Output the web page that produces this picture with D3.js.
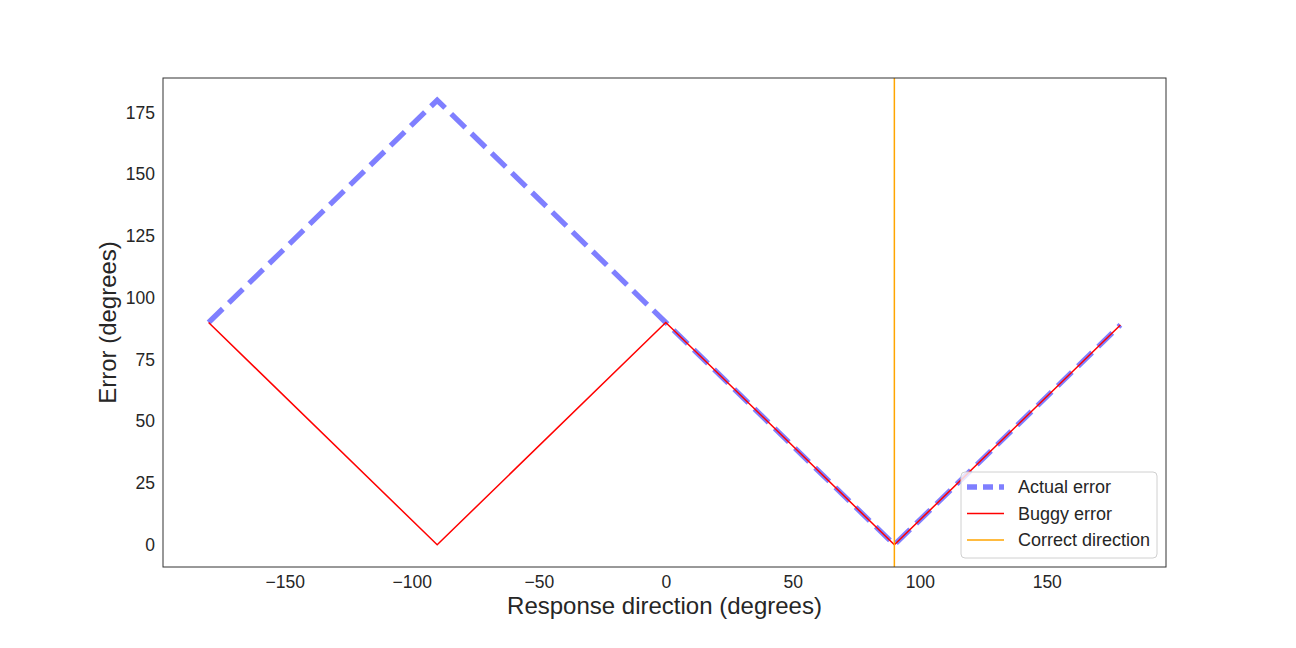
<!DOCTYPE html>
<html>
<head>
<meta charset="utf-8">
<script src="https://cdn.jsdelivr.net/npm/d3@7"></script>
<style>
  body { margin: 0; background: #fff; }
  text { font-family: "Liberation Sans", Arial, sans-serif; fill: #262626; }
</style>
</head>
<body>
<svg id="chart" width="1296" height="648"></svg>
<script>
// data
const directions = [-180, -90, 0, 90, 179];
const actualError = [90, 180, 90, 0, 89];
const buggyError = [90, 0, 90, 0, 89];
const correctDirection = 90;
const xTicks = [-150, -100, -50, 0, 50, 100, 150];
const yTicks = [0, 25, 50, 75, 100, 125, 150, 175];
const legendLabels = ['Actual error', 'Buggy error', 'Correct direction'];

const pLeft = 163, pRight = 1166, pTop = 78, pBottom = 567;
const svg = d3.select('#chart');

const x = d3.scaleLinear().domain([-197.95, 196.95]).range([pLeft, pRight]);
const y = d3.scaleLinear().domain([-9, 189]).range([pBottom, pTop]);
const fmt = d => d < 0 ? '\u2212' + Math.abs(d) : String(d);

// clip to axes
svg.append('clipPath').attr('id', 'clip')
  .append('rect').attr('x', pLeft).attr('y', pTop)
  .attr('width', pRight - pLeft).attr('height', pBottom - pTop);

const plot = svg.append('g').attr('clip-path', 'url(#clip)');
const line = d3.line().x(d => x(d[0])).y(d => y(d[1]));

plot.append('path')
  .datum(directions.map((d, i) => [d, actualError[i]]))
  .attr('d', line)
  .attr('fill', 'none')
  .attr('stroke', 'blue').attr('stroke-opacity', 0.5)
  .attr('stroke-width', 5.3)
  .attr('stroke-dasharray', '19.7 8.5');

plot.append('path')
  .datum(directions.map((d, i) => [d, buggyError[i]]))
  .attr('d', line)
  .attr('fill', 'none')
  .attr('stroke', 'red')
  .attr('stroke-width', 1.5);

plot.append('line')
  .attr('x1', x(correctDirection)).attr('x2', x(correctDirection))
  .attr('y1', pTop).attr('y2', pBottom)
  .attr('stroke', 'orange').attr('stroke-width', 1.5);

// axes (no tick marks, seaborn-white)
const xAxis = svg.append('g').attr('transform', `translate(0,${pBottom})`)
  .call(d3.axisBottom(x).tickValues(xTicks).tickFormat(fmt).tickSize(0).tickPadding(9));
const yAxis = svg.append('g').attr('transform', `translate(${pLeft},0)`)
  .call(d3.axisLeft(y).tickValues(yTicks).tickFormat(fmt).tickSize(0).tickPadding(8));
[xAxis, yAxis].forEach(a => {
  a.select('.domain').remove();
  a.selectAll('text').attr('font-size', '17.5px').attr('fill', '#262626')
    .style('font-family', '"Liberation Sans", Arial, sans-serif');
});

svg.append('rect')
  .attr('x', pLeft).attr('y', pTop)
  .attr('width', pRight - pLeft).attr('height', pBottom - pTop)
  .attr('fill', 'none').attr('stroke', '#333').attr('stroke-width', 1);

svg.append('text')
  .attr('x', (pLeft + pRight) / 2).attr('y', 614)
  .attr('text-anchor', 'middle').attr('font-size', '24px')
  .text('Response direction (degrees)');

svg.append('text')
  .attr('transform', `translate(116,${(pTop + pBottom) / 2}) rotate(-90)`)
  .attr('text-anchor', 'middle').attr('font-size', '24px')
  .text('Error (degrees)');

// legend
const lg = svg.append('g');
lg.append('rect')
  .attr('x', 961).attr('y', 472).attr('width', 196).attr('height', 86)
  .attr('rx', 4).attr('fill', 'white').attr('fill-opacity', 0.8)
  .attr('stroke', '#d0d0d0');
const styles = [
  { stroke: 'blue', op: 0.5, w: 5.3, dash: '10 6' },
  { stroke: 'red', op: 1, w: 1.5, dash: null },
  { stroke: 'orange', op: 1, w: 1.5, dash: null }
];
legendLabels.forEach((lab, i) => {
  const yy = 487 + i * 26.5;
  lg.append('line')
    .attr('x1', 967).attr('x2', 1004).attr('y1', yy).attr('y2', yy)
    .attr('stroke', styles[i].stroke).attr('stroke-opacity', styles[i].op)
    .attr('stroke-width', styles[i].w)
    .attr('stroke-dasharray', styles[i].dash);
  lg.append('text')
    .attr('x', 1018).attr('y', yy + 6)
    .attr('font-size', '18px')
    .text(lab);
});
</script>
</body>
</html>
